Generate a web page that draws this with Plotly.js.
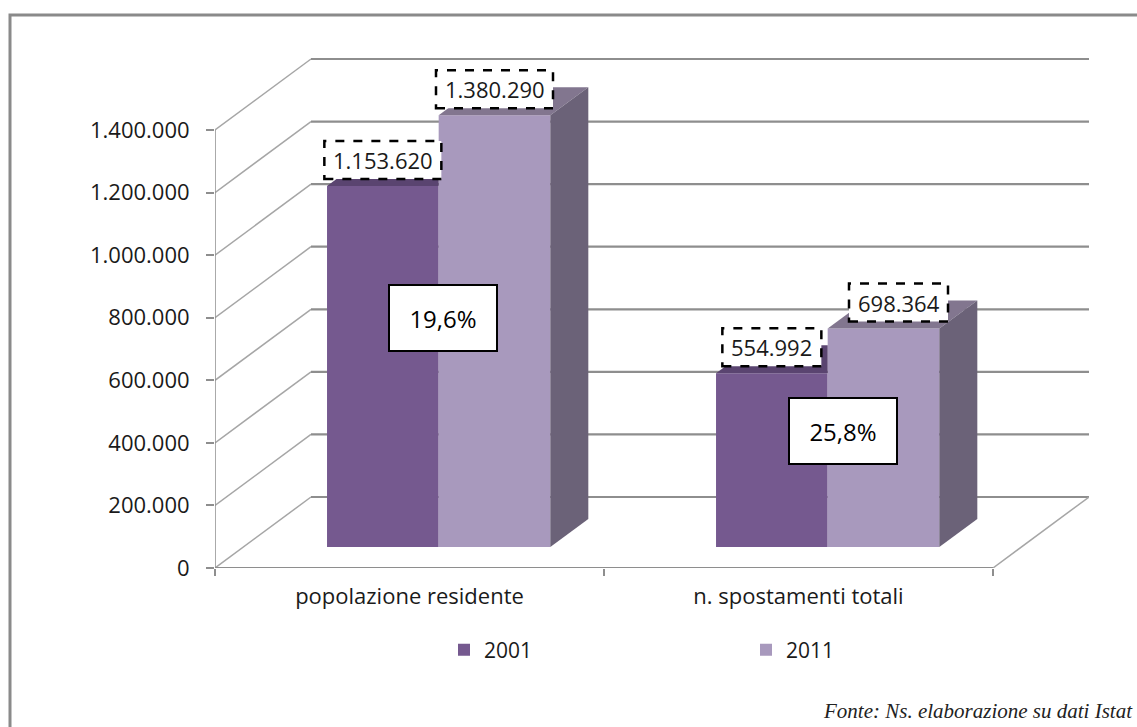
<!DOCTYPE html>
<html><head><meta charset="utf-8">
<script src="https://cdn.plot.ly/plotly-3.0.1.min.js"></script>
<style>html,body{margin:0;padding:0;background:#fff}</style></head>
<body><div id="chart" style="width:1137px;height:727px"></div>
<script>
// Data
const categories = ["popolazione residente", "n. spostamenti totali"];
const values2001 = [1153620, 554992];
const values2011 = [1380290, 698364];
const labels2001 = ["1.153.620", "554.992"];
const labels2011 = ["1.380.290", "698.364"];
const growth = ["19,6%", "25,8%"];
const yTickVals = [0, 200000, 400000, 600000, 800000, 1000000, 1200000, 1400000];
const yTickText = ["0", "200.000", "400.000", "600.000", "800.000", "1.000.000", "1.200.000", "1.400.000"];
const seriesNames = ["2001", "2011"];
const sourceNote = "Fonte: Ns. elaborazione su dati Istat";

// Scales (pixels per unit of each axis)
const W = 1137, H = 727, mL = 215, mR = 48, mT = 58, mB = 159;
const plotW = W - mL - mR, plotH = H - mT - mB;
const pxPerCat = 389, pxPerVal = 438 / 1400000;
const xMin = -0.5, xMax = xMin + plotW / pxPerCat;
const yMax = plotH / pxPerVal;
const dxPx = v => v / pxPerCat, dyPx = v => v / pxPerVal;
const paperX = px => (px - mL) / plotW, paperY = py => (H - mB - py) / plotH;

const wallDx = dxPx(96), wallDy = dyPx(71);
const barDx = dxPx(38), barDy = dyPx(28);
const floorBase = dyPx(21), barStart = 0.288, barW = 0.287;

const colors = {f1:"#75598f", f2:"#a899bd", s2:"#6b6278", t1:"#5a4470", t2:"#82768f", grid:"#8e8e8e", obl:"#a6a6a6", axis:"#8e8e8e", text:"#1a1a1a"};
const font = "'Open Sans', sans-serif";

const left1 = categories.map((_, i) => xMin + i + barStart);
const left2 = left1.map(x => x + barW);

function bar(name, lefts, vals, color) {
  return {type:"bar", name, x:lefts.map(x => x + barW/2), y:vals, base:vals.map(() => floorBase), width:barW,
          marker:{color, line:{width:0}}, hoverinfo:"skip"};
}
function poly(xs, ys, color) {
  return {type:"scatter", mode:"lines", x:xs, y:ys, fill:"toself", fillcolor:color, line:{width:0, color},
          showlegend:false, hoverinfo:"skip"};
}
const traces = [bar(seriesNames[0], left1, values2001, colors.f1), bar(seriesNames[1], left2, values2011, colors.f2)];
categories.forEach((_, i) => {
  const t1 = values2001[i] + floorBase, t2 = values2011[i] + floorBase, a = left1[i], b = left2[i], c = b + barW;
  traces.push(poly([a, a + barDx, b, b, a], [t1, t1 + barDy, t1 + barDy, t1, t1], colors.t1));
  traces.push(poly([b, b + barDx, c + barDx, c, b], [t2, t2 + barDy, t2 + barDy, t2, t2], colors.t2));
  traces.push(poly([c, c + barDx, c + barDx, c, c], [floorBase, floorBase + barDy, t2 + barDy, t2, floorBase], colors.s2));
});

const shapes = [];
const xRight = xMin + categories.length;
yTickVals.forEach(v => {
  shapes.push({type:"line", layer:"below", xref:"x", yref:"y", x0:xMin, x1:xMin + wallDx, y0:v, y1:v + wallDy, line:{color:colors.obl, width:1.5}});
  shapes.push({type:"line", layer:"below", xref:"x", yref:"y", x0:xMin + wallDx, x1:xRight + wallDx, y0:v + wallDy, y1:v + wallDy, line:{color:colors.grid, width:2.2}});
});
shapes.push({type:"line", layer:"below", xref:"x", yref:"y", x0:xRight, x1:xRight + wallDx, y0:0, y1:wallDy, line:{color:colors.obl, width:1.5}});
shapes.push({type:"line", layer:"below", xref:"x", yref:"y", x0:xMin, x1:xRight, y0:0, y1:0, line:{color:colors.axis, width:2.2}});
shapes.push({type:"line", layer:"below", xref:"x", yref:"y", x0:xMin, x1:xMin, y0:0, y1:yTickVals[yTickVals.length-1], line:{color:colors.axis, width:1.5}});
// Chart frame: left and top edges
shapes.push({type:"path", layer:"below", xref:"paper", yref:"paper",
  path:`M ${paperX(10)} ${paperY(H)} L ${paperX(10)} ${paperY(15)} L ${paperX(W)} ${paperY(15)}`,
  line:{color:"#8a8a8a", width:3}});

const annotations = [];
function valueBox(txt, cx, top, wPx) {
  const y0 = top + dyPx(7), y1 = y0 + dyPx(38), hw = dxPx(wPx/2);
  shapes.push({type:"rect", layer:"above", xref:"x", yref:"y", x0:cx-hw, x1:cx+hw, y0, y1, fillcolor:"#fff", line:{color:"#000", width:2.5, dash:"dash"}});
  annotations.push({xref:"x", yref:"y", x:cx, y:(y0+y1)/2, text:txt, showarrow:false, font:{family:font, size:22, color:colors.text}});
}
function pctBox(txt, cx, cy) {
  annotations.push({xref:"x", yref:"y", x:cx, y:cy, text:txt, showarrow:false, width:106, height:64, bgcolor:"#fff", bordercolor:"#000", borderwidth:2, borderpad:0, valign:"middle", align:"center", font:{family:font, size:24, color:"#000"}});
}
const narrow = 99, wide = 117, manualShift = dxPx(15);
categories.forEach((_, i) => {
  const boxW = i === 0 ? wide : narrow;
  valueBox(labels2001[i], left1[i] + barW/2, values2001[i] + floorBase, boxW);
  valueBox(labels2011[i], left2[i] + barW/2 + (i === 1 ? manualShift : 0), values2011[i] + floorBase, boxW);
});
pctBox(growth[0], left2[0] + dxPx(4), dyPx(568 - 318));
pctBox(growth[1], left2[1] + dxPx(15), dyPx(568 - 431));
annotations.push({xref:"paper", yref:"paper", x:paperX(1135), y:paperY(711), xanchor:"right", yanchor:"middle", text:sourceNote, showarrow:false,
  font:{family:"'Liberation Serif', serif", size:21, color:"#222", style:"italic"}});

const layout = {
  width:W, height:H, margin:{l:mL, r:mR, t:mT, b:mB, pad:0, autoexpand:false}, paper_bgcolor:"#fff", plot_bgcolor:"rgba(0,0,0,0)",
  showlegend:true, barmode:"overlay", hovermode:false,
  legend:{orientation:"h", x:paperX(444), xanchor:"left", y:paperY(650), yanchor:"middle",
          entrywidth:257, entrywidthmode:"pixels", font:{family:font, size:21, color:colors.text}, bgcolor:"rgba(0,0,0,0)", traceorder:"normal"},
  xaxis:{range:[xMin, xMax], tickmode:"array", tickvals:categories.map((_, i) => i), ticktext:categories, ticks:"", showgrid:false, zeroline:false, showline:false,
         minor:{ticks:"outside", ticklen:7, tickwidth:2, tickcolor:colors.axis, tickmode:"array", tickvals:[xMin, xMin+1, xMin+2], showgrid:false},
         ticklabelstandoff:13, automargin:false, tickfont:{family:font, size:22, color:colors.text}},
  yaxis:{range:[0, yMax], tickmode:"array", tickvals:yTickVals, ticktext:yTickText, ticks:"outside", ticklen:8, tickwidth:2, tickcolor:colors.axis,
         showgrid:false, zeroline:false, showline:false, ticklabelstandoff:12, automargin:false, tickfont:{family:font, size:22, color:colors.text}},
  shapes, annotations
};
Plotly.newPlot("chart", traces, layout, {displayModeBar:false, staticPlot:true});
</script></body></html>
